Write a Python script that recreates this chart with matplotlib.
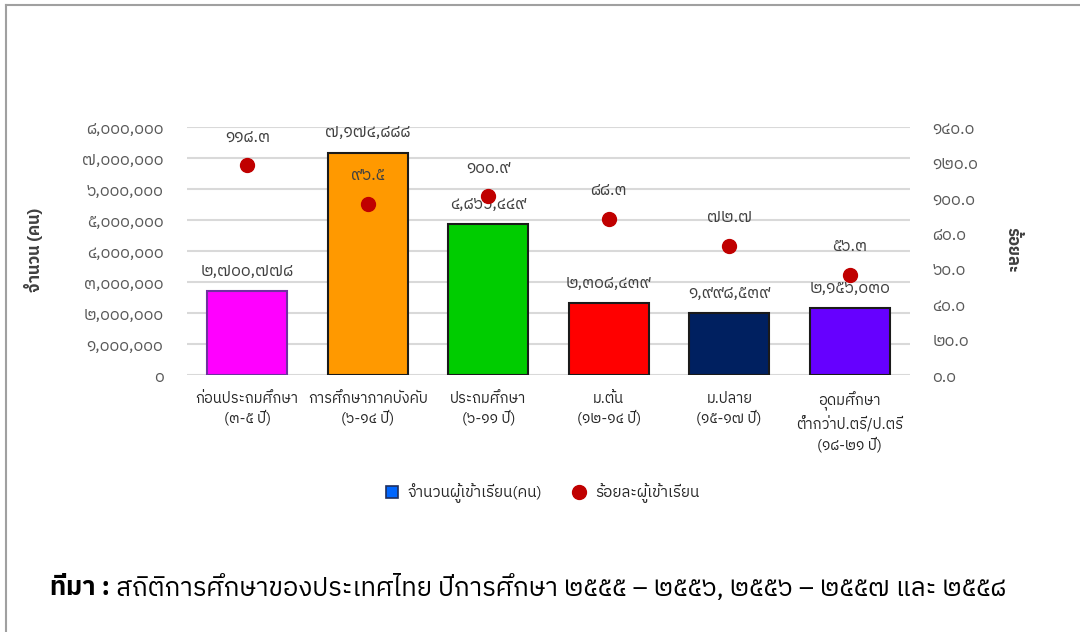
import matplotlib
matplotlib.use("Agg")
import matplotlib.pyplot as plt
from matplotlib import font_manager
from matplotlib.lines import Line2D

# ---------------- data ----------------
categories = [
    "ก่อนประถมศึกษา\n(๓-๕ ปี)",
    "การศึกษาภาคบังคับ\n(๖-๑๔ ปี)",
    "ประถมศึกษา\n(๖-๑๑ ปี)",
    "ม.ต้น\n(๑๒-๑๔ ปี)",
    "ม.ปลาย\n(๑๕-๑๗ ปี)",
    "อุดมศึกษา\nต่ำกว่าป.ตรี/ป.ตรี\n(๑๘-๒๑ ปี)",
]
enrolled = [2700778, 7174888, 4866449, 2308439, 1998539, 2156030]
percent = [118.3, 96.5, 100.9, 88.3, 72.7, 56.3]
bar_colors = ["#FF00FF", "#FF9900", "#00CC00", "#FF0000", "#002060", "#6600FF"]
bar_edges = ["#7030A0", "#1a1a1a", "#1a1a1a", "#1a1a1a", "#1a1a1a", "#1a1a1a"]
left_ticks = [0, 1000000, 2000000, 3000000, 4000000, 5000000, 6000000, 7000000, 8000000]
right_ticks = [0, 20, 40, 60, 80, 100, 120, 140]
legend_labels = ["จำนวนผู้เข้าเรียน(คน)", "ร้อยละผู้เข้าเรียน"]
left_title = "จำนวน (คน)"
right_title = "ร้อยละ"
source_bold = "ที่มา :"
source_rest = " สถิติการศึกษาของประเทศไทย ปีการศึกษา ๒๕๕๕ – ๒๕๕๖, ๒๕๕๖ – ๒๕๕๗ และ ๒๕๕๘"

# ---------------- fonts ----------------
def find_thai_fonts():
    names = []
    try:
        from fontTools.ttLib import TTFont
    except Exception:
        return names
    seen = set()
    for f in font_manager.fontManager.ttflist:
        if f.name in seen:
            continue
        try:
            tt = TTFont(f.fname, fontNumber=0, lazy=True)
            cmap = tt.getBestCmap()
            if cmap and 0x0E01 in cmap and 0x0E51 in cmap:
                names.append(f.name)
                seen.add(f.name)
        except Exception:
            pass
    names.sort(key=lambda n: (0 if "Thai" in n else 1, n))
    return names

thai = find_thai_fonts()
families = thai[:1] + ["DejaVu Sans"]
plt.rcParams["font.family"] = families

THAI_DIGITS = str.maketrans("0123456789", "๐๑๒๓๔๕๖๗๘๙")
def th(s):
    return s.translate(THAI_DIGITS)

# ---------------- figure ----------------
W, H = 1080, 632
fig = plt.figure(figsize=(W / 100, H / 100), dpi=100)
fig.patch.set_facecolor("white")

# thin frame (top and left)
fig.add_artist(Line2D([6 / W, 6 / W], [0, 1 - 5 / H], transform=fig.transFigure, color="#A0A0A0", lw=1.5))
fig.add_artist(Line2D([6 / W, 1], [1 - 5 / H, 1 - 5 / H], transform=fig.transFigure, color="#A0A0A0", lw=1.5))

ax = fig.add_axes([187 / W, 1 - 375 / H, (910 - 187) / W, (375 - 127) / H])
x = list(range(len(categories)))

ax.bar(x, enrolled, width=0.66, color=bar_colors, edgecolor=bar_edges, linewidth=1.5, zorder=3)
ax.set_xlim(-0.5, len(categories) - 0.5)
ax.set_ylim(0, 8000000)
ax.set_yticks(left_ticks)
ax.set_yticklabels([th(f"{v:,}") for v in left_ticks])
ax.yaxis.grid(True, color="#D9D9D9", lw=1.5, zorder=0)
ax.set_axisbelow(True)
ax.tick_params(axis="y", length=0, pad=17, labelsize=12, labelcolor="#595959")
ax.set_xticks(x)
ax.set_xticklabels(categories, fontsize=10.5, color="#262626", linespacing=1.35)
ax.tick_params(axis="x", length=0, pad=12)
for s in ax.spines.values():
    s.set_visible(False)

for xi, v in zip(x, enrolled):
    ax.annotate(th(f"{v:,}"), (xi, v), xytext=(0, 9), textcoords="offset points",
                ha="center", va="bottom", fontsize=12, color="#404040", zorder=5)

ax2 = ax.twinx()
ax2.set_ylim(0, 140)
ax2.set_yticks(right_ticks)
ax2.set_yticklabels([th(f"{v:.1f}") for v in right_ticks])
ax2.tick_params(axis="y", length=0, pad=16, labelsize=12, labelcolor="#595959")
for s in ax2.spines.values():
    s.set_visible(False)
ax2.plot(x, percent, linestyle="none", marker="o", markersize=10, color="#C00000", zorder=6)
for xi, v in zip(x, percent):
    ax2.annotate(th(f"{v:.1f}"), (xi, v), xytext=(0, 15), textcoords="offset points",
                 ha="center", va="bottom", fontsize=12, color="#404040", zorder=7)

fig.text(33 / W, 1 - 250 / H, left_title, rotation=90, ha="center", va="center",
         fontsize=12, fontweight="bold", color="#404040")
fig.text(1012 / W, 1 - 250 / H, right_title, rotation=270, ha="center", va="center",
         fontsize=12, fontweight="bold", color="#404040")

handles = [
    Line2D([], [], linestyle="none", marker="s", markersize=9, markerfacecolor="#0066FF",
           markeredgecolor="#1F2F5F", markeredgewidth=1.2),
    Line2D([], [], linestyle="none", marker="o", markersize=10, color="#C00000"),
]
fig.legend(handles, legend_labels, loc="center", bbox_to_anchor=(538 / W, 1 - 493 / H), ncol=2,
           frameon=False, fontsize=11, handletextpad=0.05, columnspacing=1.4, labelcolor="#262626")

t1 = fig.text(50 / W, 1 - 588 / H, source_bold, ha="left", va="center", fontsize=18.5,
              fontweight="bold", color="black")
fig.canvas.draw()
bb = t1.get_window_extent(renderer=fig.canvas.get_renderer())
fig.text(bb.x1 / W, 1 - 588 / H, source_rest, ha="left", va="center", fontsize=18.5, color="black")

fig.savefig("out.png", dpi=100, facecolor="white")
